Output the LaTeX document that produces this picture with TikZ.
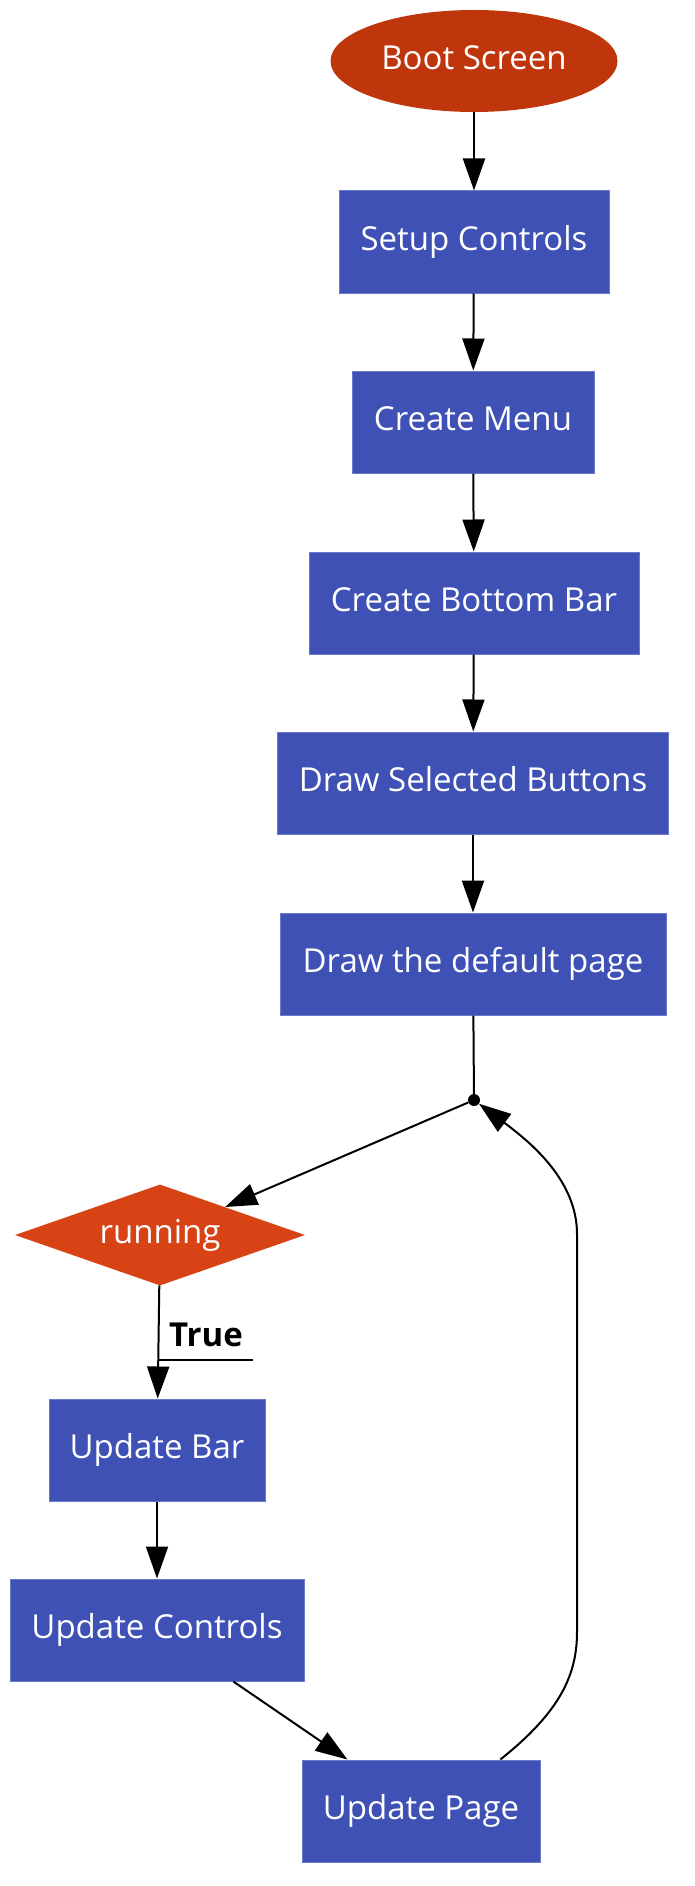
\documentclass[tikz,border=0pt]{standalone}
\usepackage{fontspec}
\setmainfont{Open Sans}
\usetikzlibrary{shapes.geometric,arrows.meta}
\definecolor{bootred}{HTML}{BF360C}
\definecolor{stepblue}{HTML}{3F51B5}
\definecolor{stepedge}{HTML}{6A79C9}
\definecolor{testorange}{HTML}{D84315}

\begin{document}
\begin{tikzpicture}[x=1pt, y=-1pt,
    txt/.style={text=white, font=\fontsize{33}{36}\selectfont, text height=24pt, text depth=6.6pt, inner sep=0pt},
    stepbox/.style={txt, rectangle, fill=stepblue, draw=stepedge, line width=1pt, minimum height=102pt},
    flow/.style={line width=2pt, -{Triangle[length=32pt,width=22pt]}}]
    \useasboundingbox (0,0) rectangle (694,1886);

    % Start
    \node[txt, ellipse, fill=bootred, minimum width=287pt, minimum height=102pt] (boot) at (474,61) {Boot Screen};

    % Setup steps
    \node[stepbox, minimum width=270pt] (setup) at (474,242) {Setup Controls};
    \node[stepbox, minimum width=242pt] (menu) at (473,422) {Create Menu};
    \node[stepbox, minimum width=330pt] (bottombar) at (474,603) {Create Bottom Bar};
    \node[stepbox, minimum width=391pt] (buttons) at (473,783) {Draw Selected Buttons};
    \node[stepbox, minimum width=386pt] (defpage) at (473,964) {Draw the default page};

    % Main loop
    \node[circle, fill=black, inner sep=0pt, minimum size=12pt] (join) at (474,1100) {};
    \node[txt, diamond, fill=testorange, aspect=2.9, minimum width=290pt, minimum height=101pt] (running) at (160,1235) {running};
    \node[font=\fontsize{33}{36}\selectfont\bfseries, text height=23pt, text depth=0pt, inner xsep=10pt, inner ysep=13pt, anchor=south west] (lbltrue) at (159,1360) {True};
    \node[stepbox, minimum width=216pt] (updbar) at (157,1450) {Update Bar};
    \node[stepbox, minimum width=294pt] (updctrl) at (157,1630) {Update Controls};
    \node[stepbox, minimum width=238pt] (updpage) at (421,1811) {Update Page};

    % Edges
    \draw[flow] (boot) -- (setup);
    \draw[flow] (setup) -- (menu);
    \draw[flow] (menu) -- (bottombar);
    \draw[flow] (bottombar) -- (buttons);
    \draw[flow] (buttons) -- (defpage);
    \draw[line width=2pt] (defpage) -- (join);
    \draw[flow] (join) -- (running);
    \draw[flow] (running) -- (updbar);
    \draw[line width=2pt] (lbltrue.south west) -- (lbltrue.south east);
    \draw[flow] (updbar) -- (updctrl);
    \draw[flow] (updctrl.-34) -- (updpage.145);
    \draw[flow] (updpage.33) .. controls (560,1712) and (577,1675) .. (577,1632)
        -- (577,1234) .. controls (577,1180) and (530,1142) .. (join);
\end{tikzpicture}
\end{document}
